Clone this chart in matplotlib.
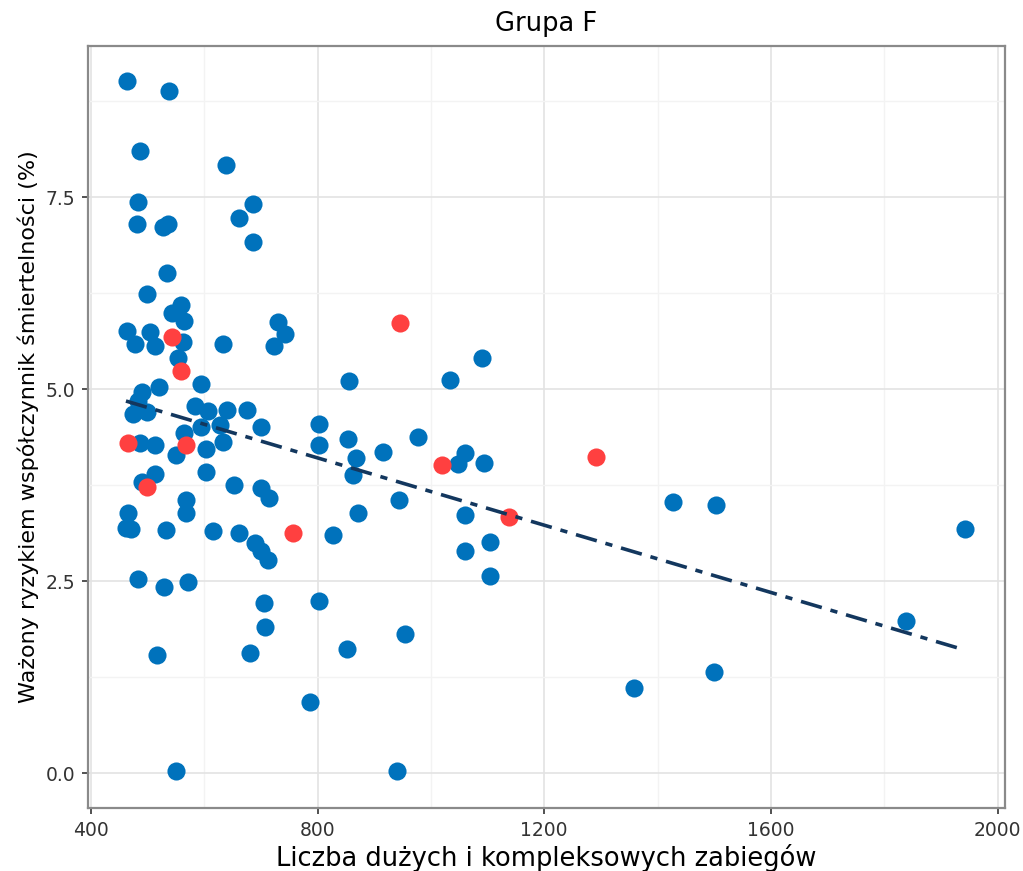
import matplotlib
matplotlib.use("Agg")
import matplotlib.pyplot as plt
import numpy as np

# Values
blue_x = [463, 538, 487, 639, 484, 687, 661, 481, 528, 537, 687, 535, 499, 559, 544,
          565, 731, 743, 723, 463, 504, 563, 478, 513, 633, 553, 855, 595, 520, 490,
          483, 475, 499, 583, 607, 640, 675, 701, 595, 628, 565, 803, 803, 853, 868,
          862, 915, 486, 514, 550, 603, 633, 603, 513, 490, 652, 701, 714, 568, 568,
          465, 462, 471, 533, 615, 661, 689, 701, 713, 827, 871, 943, 483, 529, 572,
          705, 803, 708, 955, 517, 680, 852, 787, 550, 940,
          1090, 1033, 978, 1047, 1061, 1093, 1428, 1503, 1942, 1061, 1104, 1061, 1104,
          1358, 1500, 1838]
blue_y = [9.02, 8.88, 8.10, 7.92, 7.44, 7.41, 7.23, 7.15, 7.11, 7.15, 6.92, 6.52, 6.24, 6.10, 6.00,
          5.89, 5.88, 5.72, 5.57, 5.76, 5.75, 5.62, 5.59, 5.56, 5.59, 5.41, 5.11, 5.07, 5.03, 4.96,
          4.85, 4.68, 4.70, 4.78, 4.72, 4.73, 4.73, 4.51, 4.51, 4.53, 4.43, 4.55, 4.28, 4.36, 4.11,
          3.89, 4.18, 4.30, 4.27, 4.15, 4.23, 4.32, 3.92, 3.90, 3.80, 3.75, 3.72, 3.58, 3.56, 3.39,
          3.39, 3.19, 3.18, 3.17, 3.15, 3.13, 3.00, 2.89, 2.78, 3.11, 3.39, 3.56, 2.53, 2.43, 2.49,
          2.22, 2.25, 1.91, 1.82, 1.54, 1.57, 1.62, 0.93, 0.03, 0.03,
          5.41, 5.12, 4.38, 4.03, 4.17, 4.04, 3.53, 3.50, 3.18, 3.37, 3.01, 2.89, 2.57,
          1.11, 1.32, 1.99]

red_x = [945, 543, 559, 466, 568, 499, 756, 1020, 1291, 1137]
red_y = [5.87, 5.68, 5.24, 4.30, 4.27, 3.73, 3.13, 4.01, 4.12, 3.34]

# trend line
trend_intercept = 5.86
trend_slope = -0.00219

x_ticks = [400, 800, 1200, 1600, 2000]
y_ticks = [0.0, 2.5, 5.0, 7.5]

fig = plt.figure(figsize=(10.23, 8.71), dpi=100)
ax = fig.add_axes([0.086, 0.0723, 0.8964, 0.8749])

ax.scatter(blue_x, blue_y, s=170, color='#0072BC', linewidths=0, zorder=3)
ax.scatter(red_x, red_y, s=170, color='#FF4040', linewidths=0, zorder=4)

all_x = blue_x + red_x
tx = np.array([min(all_x), max(all_x)])
ax.plot(tx, trend_intercept + trend_slope * tx, color='#13375E', lw=2.6,
        dashes=(6, 2.5, 2, 2.5), zorder=5)

ax.set_xlim(395, 2013)
ax.set_ylim(-0.45, 9.47)
ax.set_xticks(x_ticks)
ax.set_xticks([600, 1000, 1400, 1800], minor=True)
ax.set_yticks(y_ticks)
ax.set_yticklabels(['%.1f' % v for v in y_ticks])
ax.set_yticks([1.25, 3.75, 6.25, 8.75], minor=True)

ax.grid(True, which='major', color='#E3E3E3', lw=1.2)
ax.grid(True, which='minor', color='#F3F3F3', lw=1.0)
ax.set_axisbelow(True)

for s in ax.spines.values():
    s.set_color('#8A8A8A')
    s.set_linewidth(1.6)

ax.tick_params(which='major', length=4, width=1.2, color='#333333',
               labelsize=13.5, labelcolor='#333333', pad=5)
ax.tick_params(which='minor', length=0)

ax.set_title('Grupa F', fontsize=18.5, pad=11)
ax.set_xlabel('Liczba dużych i kompleksowych zabiegów', fontsize=18.5, labelpad=3)
ax.set_ylabel('Ważony ryzykiem współczynnik śmiertelności (%)', fontsize=16, labelpad=5)

fig.savefig('out.png', dpi=100)
